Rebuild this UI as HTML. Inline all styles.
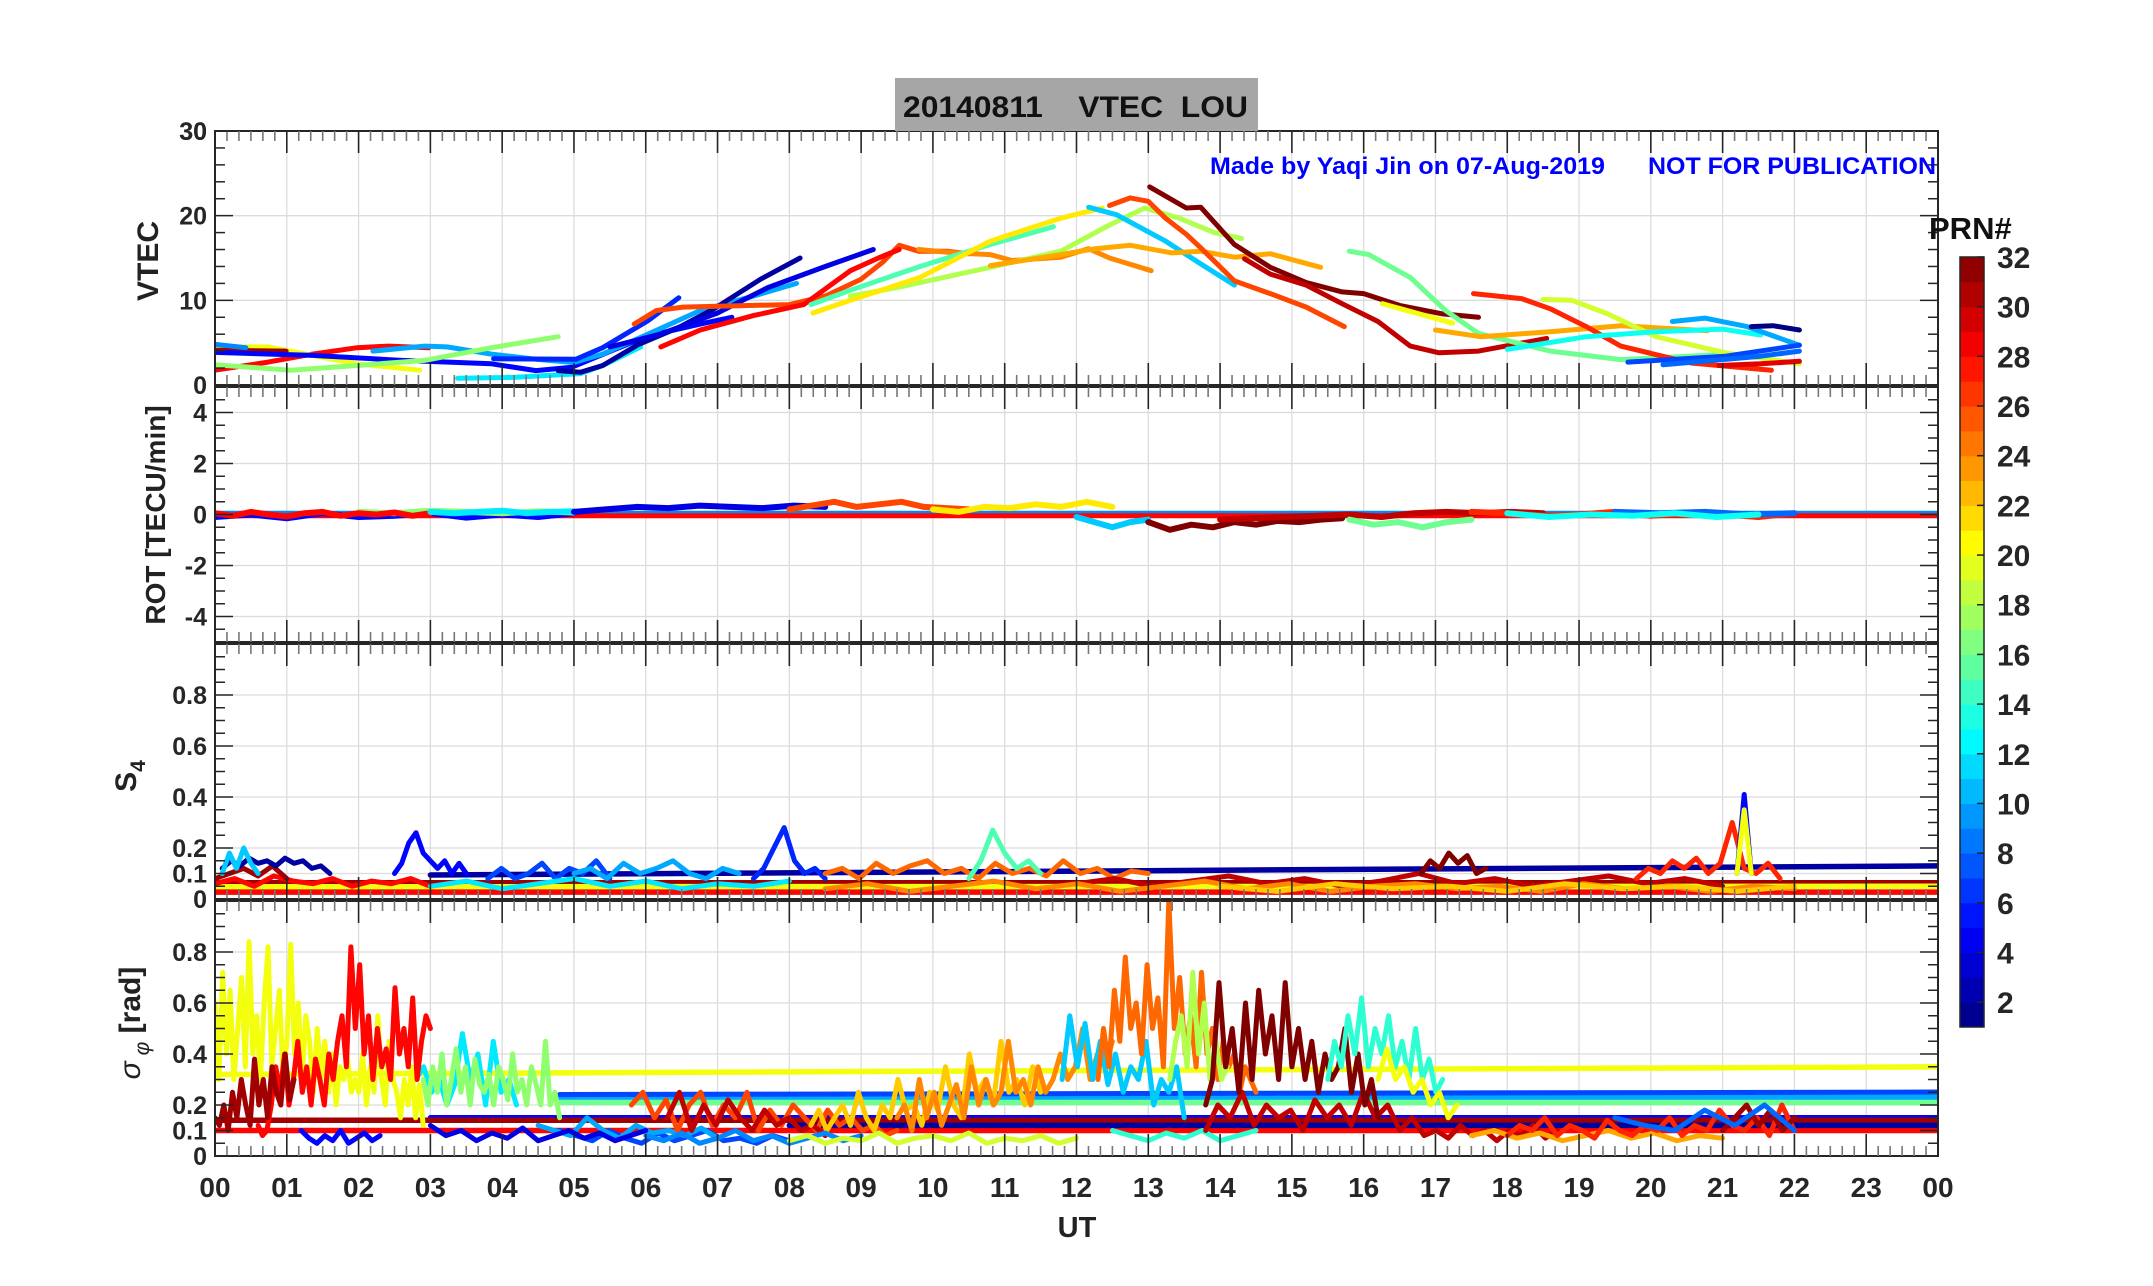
<!DOCTYPE html>
<html><head><meta charset="utf-8"><style>
html,body{margin:0;padding:0;background:#fff;}
svg{display:block;font-family:"Liberation Sans",Arial,sans-serif;}
</style></head><body>
<svg id="chart" width="2153" height="1286" viewBox="0 0 2153 1286" xmlns="http://www.w3.org/2000/svg">
<rect width="2153" height="1286" fill="#fff"/>
<g id="grid"></g><g id="marks"></g><g id="axes"></g>
<rect x="895" y="78" width="363" height="53" fill="#a6a6a6"/>
<text x="903" y="117" font-size="30" font-weight="bold" fill="#111" textLength="345" lengthAdjust="spacingAndGlyphs" xml:space="preserve">20140811    VTEC  LOU</text>
<text x="1210" y="174" font-size="24" font-weight="bold" fill="#0000ff" textLength="395" lengthAdjust="spacingAndGlyphs">Made by Yaqi Jin on 07-Aug-2019</text>
<text x="1648" y="174" font-size="24" font-weight="bold" fill="#0000ff" textLength="288" lengthAdjust="spacingAndGlyphs">NOT FOR PUBLICATION</text>
<text transform="translate(158,261) rotate(-90)" text-anchor="middle" font-size="30" font-weight="bold" fill="#222">VTEC</text>
<text transform="translate(165,515) rotate(-90)" text-anchor="middle" font-size="28" font-weight="bold" fill="#222">ROT [TECU/min]</text>
<text transform="translate(136,776) rotate(-90)" text-anchor="middle" font-size="30" font-weight="bold" fill="#222">S<tspan font-size="21" dy="9">4</tspan></text>
<text transform="translate(140,1023) rotate(-90)" text-anchor="middle" font-size="30" font-weight="bold" fill="#222"><tspan font-style="italic" font-weight="normal">σ</tspan><tspan font-size="21" dy="9" font-style="italic" font-weight="normal"> φ</tspan><tspan dy="-9"> [rad]</tspan></text>
<text x="1077" y="1237" text-anchor="middle" font-size="29" font-weight="bold" fill="#222">UT</text>
<text x="1929" y="239" font-size="31" font-weight="bold" fill="#111">PRN#</text>
<g id="cbar"></g>
</svg>
<script>
// ---------- data ----------
const hourLabels=["00","01","02","03","04","05","06","07","08","09","10","11","12","13","14","15","16","17","18","19","20","21","22","23","00"];
const vtecTicks=[0,10,20,30];
const rotTicks=[-4,-2,0,2,4];
const s4Ticks=[0,0.1,0.2,0.4,0.6,0.8];
const sigTicks=[0,0.1,0.2,0.4,0.6,0.8];
const cbarTicks=[2,4,6,8,10,12,14,16,18,20,22,24,26,28,30,32];

const vtecPrn=[28,20,31,5,9,10,17,12,6,2,4,26,28,24,15,18,21,11,23,26,32,30,16,20,23,27,19,13,10,1,7,8,29];
const vtecT=[
[0,0.74,1.36,1.98,2.42,2.98],
[0,0.74,1.36,1.98,2.85],
[0,0.99],
[0,1.36,2.6,3.85,4.47,4.97,5.4,6.03,6.76,7.2],
[0,0.43],
[2.2,2.92,3.23,3.85,4.47,5.0,5.4,6.03,6.76,7.5,8.1],
[0,1.05,1.98,2.92,3.85,4.78],
[3.38,4.16,5.09,5.4,5.93],
[3.88,5.03,5.4,6.03,6.46],
[4.78,5.09,5.4,5.9,6.46,6.95,7.6,8.15],
[5.5,6.2,7.0,7.7,8.5,9.17],
[5.84,6.15,6.52,7.0,7.5,8.0,8.5,9.0,9.3,9.53,9.8,10.2,10.5],
[6.21,6.76,7.5,8.2,8.85,9.24,9.53],
[9.8,10.3,10.8,11.1,11.78,12.17,12.46,13.04],
[8.3,8.85,9.82,10.8,11.68],
[8.85,9.5,10.8,11.78,12.46,12.95,13.43,13.92,14.3],
[8.33,8.85,9.82,10.8,11.78,12.36],
[12.17,12.56,13.24,13.73,14.2],
[10.8,11.78,12.26,12.75,13.33,13.73,14.2,14.7,15.4],
[12.46,12.75,13.0,13.24,13.53,13.73,14.2,14.7,15.2,15.73],
[13.02,13.53,13.73,14.2,14.7,15.2,15.7,16.0,16.5,17.1,17.6],
[14.34,14.7,15.2,15.7,16.2,16.65,17.05,17.6,18.55],
[15.8,16.07,16.65,17.14,17.6,18.6,19.58,20.99],
[16.26,17.24],
[17.0,17.63,18.6,19.58,20.79],
[17.53,18.2,18.6,19.1,19.58,20.56,21.68],
[18.5,18.9,19.4,20.07,21.04,22.07],
[18.0,19.1,20.07,21.0,21.53],
[20.3,20.75,21.34,22.07],
[21.4,21.7,22.07],
[19.68,21.04,22.07],
[20.17,21.53,22.07],
[20.95,21.53,22.07]];
const vtecV=[
[1.75,2.7,3.65,4.4,4.6,4.4],
[4.5,4.5,3.5,2.5,1.75],
[4.1,4.0],
[3.85,3.5,2.9,2.5,1.7,2.1,3.6,5.8,7.2,8.0],
[4.8,4.4],
[4.0,4.6,4.5,3.65,3.05,2.66,3.65,6.0,8.8,10.5,12.0],
[2.4,1.75,2.3,2.9,4.4,5.7],
[0.8,0.9,1.35,2.3,4.5],
[3.1,3.05,4.4,7.6,10.3],
[1.7,1.5,2.3,4.8,6.8,9.0,12.5,15.0],
[4.5,6.0,8.5,11.5,14.0,16.0],
[7.2,8.8,9.2,9.3,9.4,9.5,10.5,12.5,14.5,16.5,15.8,15.8,15.5],
[4.5,6.5,8.2,9.5,13.5,15.0,16.0],
[16.0,15.6,15.4,14.7,15.1,16.1,15.0,13.5],
[9.5,11.2,14.0,16.6,18.7],
[10.5,11.5,13.9,15.8,18.9,20.9,19.7,18.0,17.3],
[8.5,10.0,12.7,17.0,19.7,20.9],
[21.0,20.1,17.0,14.3,11.8],
[14.1,15.4,16.1,16.5,15.6,15.8,15.1,15.5,13.9],
[21.2,22.1,21.7,19.7,17.8,16.2,12.3,10.8,9.2,6.9],
[23.4,20.9,21.0,16.6,13.9,12.1,11.0,10.8,9.4,8.4,8.0],
[14.9,13.1,11.8,9.6,7.5,4.6,3.8,4.0,5.5],
[15.8,15.4,12.7,8.8,6.1,4.0,3.0,3.6],
[9.6,7.3],
[6.5,5.7,6.3,7.0,6.4],
[10.8,10.2,9.0,6.9,4.6,2.6,1.75],
[10.1,10.0,8.4,5.7,3.8,2.5],
[4.2,5.7,6.3,6.6,5.9],
[7.5,7.9,6.9,4.7],
[6.9,7.0,6.5],
[2.7,3.4,4.7],
[2.4,3.4,4.0],
[2.3,2.5,2.8]];

// ROT
const rotPrn=[5,17,28,12,4,26,21,11,32,30,16,27,8,13];
const rotStart=[0,2,0,3,5,8,10,12,13,14,15.8,17.5,19.5,18];
const rotEnd=[5,5,3,5,8.5,10.5,12.5,13,15.7,18.5,17.5,22,22,21.5];
const rotV=[
[-0.1,0,-0.15,0.05,-0.1,-0.05,0.05,-0.12,0,-0.1,0.05],
[0.1,0.05,0.15,0.1,0.05,0.12,0.08],
[0.05,-0.05,0.1,0,-0.08,0.05,0.1,-0.05,0.05,0,0.08,-0.05,0.05],
[0.1,0.05,0.1,0.15,0.05,0.1,0.12],
[0.1,0.2,0.3,0.25,0.35,0.3,0.25,0.35,0.3],
[0.2,0.35,0.5,0.3,0.4,0.5,0.3,0.25,0.2],
[0.2,0.1,0.3,0.25,0.4,0.3,0.5,0.3],
[-0.1,-0.3,-0.5,-0.3,-0.2],
[-0.3,-0.6,-0.4,-0.5,-0.3,-0.4,-0.25,-0.3,-0.2,-0.15],
[-0.2,-0.15,-0.1,-0.05,0,-0.1,0.05,0.1,0.05,0.1,0.05],
[-0.2,-0.4,-0.3,-0.5,-0.3,-0.2],
[0.1,0.05,-0.05,0,0.1,-0.05,0.05,0,-0.1,0.05],
[0.1,0.05,0.1,0,0.05],
[0.05,-0.1,0,-0.05,0.05,-0.1,0]];
const rotFlatPrn=[9,28];
const rotFlatV=[0.05,-0.05];

// S4
const s4FlatPrn=[2,31,20,28];
const s4FlatStart=[3,0,0,0];
const s4FlatV0=[0.094,0.064,0.048,0.027];
const s4FlatV1=[0.13,0.064,0.05,0.027];
const s4Prn=[28,31,2,11,5,7,10,6,25,15,30,32,27,5,20,24,12,22];
const s4Start=[0,0,0.1,0.1,2.5,3.8,5,7.5,8.5,10.5,12,16.8,19.8,21.2,21.2,8.5,3,14];
const s4End=[3,1,1.6,0.6,3.5,5.5,7.3,8.5,13,11.5,21,17.7,21.8,21.4,21.4,22,8,22];
const s4V=[
[0.06,0.08,0.05,0.09,0.07,0.06,0.08,0.05,0.07,0.06,0.08,0.05],
[0.08,0.1,0.12,0.09,0.13,0.08],
[0.12,0.15,0.13,0.16,0.14,0.15,0.13,0.16,0.14,0.15,0.12,0.13,0.1],
[0.1,0.18,0.12,0.2,0.14,0.1],
[0.1,0.14,0.22,0.26,0.18,0.15,0.12,0.15,0.1,0.14,0.1],
[0.08,0.12,0.08,0.1,0.14,0.08,0.12,0.1,0.15,0.08],
[0.1,0.12,0.08,0.14,0.1,0.12,0.15,0.1,0.08,0.12,0.1],
[0.08,0.12,0.2,0.28,0.15,0.1,0.12,0.08],
[0.1,0.12,0.08,0.14,0.1,0.13,0.15,0.1,0.12,0.08,0.14,0.1,0.12,0.09,0.15,0.1,0.12,0.08,0.11,0.1],
[0.08,0.15,0.27,0.18,0.12,0.15,0.1],
[0.06,0.08,0.05,0.07,0.09,0.06,0.08,0.05,0.07,0.1,0.06,0.08,0.05,0.07,0.09,0.06,0.08,0.05],
[0.1,0.15,0.12,0.18,0.14,0.17,0.1,0.12],
[0.08,0.12,0.1,0.15,0.12,0.16,0.1,0.14,0.3,0.12,0.1,0.14,0.08],
[0.1,0.41,0.1],
[0.1,0.35,0.1],
[0.04,0.06,0.03,0.05,0.07,0.04,0.06,0.03,0.05,0.07,0.04,0.06,0.03,0.05,0.06,0.04,0.05,0.03,0.06,0.04,0.05,0.03,0.05,0.04],
[0.05,0.07,0.04,0.06,0.08,0.05,0.07,0.04,0.06,0.05,0.07],
[0.05,0.03,0.06,0.04,0.05,0.03,0.06,0.04,0.05,0.03,0.05]];

// Sigma phi
const sigFlatPrn=[20,7,10,16,5,31,28,2];
const sigFlatStart=[0,4.8,4.8,4.8,3,0,0,8];
const sigFlatV0=[0.32,0.24,0.22,0.21,0.15,0.14,0.1,0.12];
const sigFlatV1=[0.35,0.25,0.23,0.21,0.15,0.14,0.1,0.12];
const sigPrn=[5,7,10,12,17,20,28,31,26,30,22,24,14,11,25,18,30,32,14,20,23,27,31,8,4,9,19];
const sigStart=[1.2,4.8,4.5,2.8,2.9,0,0.6,0,5.8,6.3,8.3,9.5,12.5,11.8,12.3,13.3,13.8,13.8,15.5,16.2,17.5,18,21,19.5,3,6,8];
const sigEnd=[2.3,8,7,4.2,4.8,2.9,3.0,1.1,9.5,8.5,11.5,12.5,14.5,13.5,14.5,14.1,18.7,16.2,17.1,17.3,21,22,22,22,6,9,12];
const sigV=[
[0.1,0.07,0.05,0.08,0.06,0.1,0.05,0.07,0.09,0.06,0.08],
[0.1,0.08,0.06,0.1,0.07,0.05,0.09,0.06,0.08,0.1,0.06,0.07,0.05,0.08,0.06],
[0.12,0.1,0.08,0.15,0.1,0.07,0.12,0.09,0.1,0.08,0.11,0.07],
[0.3,0.35,0.25,0.3,0.2,0.28,0.48,0.3,0.4,0.2,0.45,0.25,0.3,0.2],
[0.3,0.2,0.35,0.25,0.4,0.2,0.3,0.42,0.25,0.35,0.2,0.38,0.28,0.25,0.32,0.2,0.35,0.3,0.22,0.4,0.25,0.3,0.2,0.35,0.28,0.2,0.45,0.2,0.25,0.15],
[0.6,0.3,0.72,0.4,0.65,0.3,0.5,0.7,0.35,0.84,0.4,0.55,0.3,0.6,0.82,0.35,0.5,0.65,0.3,0.45,0.83,0.4,0.6,0.3,0.55,0.45,0.25,0.5,0.3,0.45,0.25,0.4,0.2,0.35,0.3,0.38,0.25,0.3,0.25,0.4,0.2,0.35,0.25,0.55,0.3,0.2,0.45,0.3,0.25,0.15,0.3,0.2,0.35,0.15,0.28,0.12],
[0.12,0.08,0.1,0.2,0.35,0.25,0.4,0.2,0.3,0.45,0.25,0.35,0.2,0.38,0.3,0.2,0.4,0.3,0.45,0.55,0.35,0.82,0.5,0.75,0.4,0.55,0.3,0.5,0.35,0.42,0.3,0.66,0.4,0.5,0.35,0.62,0.3,0.45,0.55,0.5],
[0.15,0.12,0.2,0.1,0.25,0.15,0.3,0.2,0.12,0.38,0.2,0.3,0.15,0.35,0.25,0.2,0.4,0.22,0.3],
[0.2,0.25,0.15,0.22,0.1,0.2,0.25,0.12,0.2,0.15,0.25,0.1,0.18,0.12,0.2,0.15,0.1,0.18,0.12,0.15,0.1,0.12,0.08,0.1],
[0.15,0.25,0.1,0.2,0.12,0.22,0.15,0.1,0.18,0.12,0.15,0.1,0.12,0.08],
[0.12,0.18,0.1,0.15,0.2,0.12,0.25,0.15,0.1,0.2,0.15,0.3,0.18,0.2,0.12,0.25,0.18,0.35,0.2,0.15,0.4,0.25,0.3,0.2,0.45,0.25,0.3,0.2,0.35,0.25],
[0.15,0.2,0.1,0.3,0.15,0.25,0.12,0.2,0.28,0.15,0.35,0.2,0.3,0.2,0.25,0.45,0.25,0.3,0.2,0.35,0.25,0.3,0.4,0.3,0.35,0.5,0.3,0.4,0.35,0.45],
[0.1,0.08,0.06,0.09,0.07,0.1,0.06,0.08,0.1],
[0.3,0.55,0.35,0.52,0.3,0.45,0.28,0.4,0.25,0.35,0.3,0.45,0.2,0.3,0.25,0.35,0.15],
[0.3,0.5,0.35,0.65,0.45,0.78,0.5,0.6,0.4,0.75,0.5,0.62,0.35,1.0,0.5,0.7,0.4,0.55,0.35,0.72,0.4,0.5,0.3,0.45,0.35,0.4,0.25,0.35,0.3,0.25],
[0.3,0.45,0.55,0.35,0.72,0.4,0.6,0.3,0.45,0.3,0.35],
[0.1,0.2,0.15,0.25,0.12,0.2,0.15,0.18,0.1,0.22,0.15,0.2,0.12,0.25,0.15,0.2,0.1,0.15,0.08,0.1,0.07,0.12,0.08,0.1,0.06,0.1,0.08,0.12,0.07,0.1],
[0.2,0.3,0.68,0.35,0.5,0.25,0.6,0.3,0.65,0.4,0.55,0.3,0.68,0.35,0.5,0.3,0.45,0.25,0.4,0.3,0.35,0.5,0.25,0.4,0.2,0.3,0.15],
[0.3,0.45,0.35,0.55,0.4,0.62,0.35,0.5,0.4,0.55,0.35,0.45,0.3,0.5,0.3,0.38,0.25,0.3],
[0.3,0.42,0.3,0.35,0.25,0.3,0.2,0.25,0.15,0.2],
[0.08,0.1,0.07,0.09,0.06,0.08,0.1,0.07,0.09,0.06,0.08,0.07],
[0.08,0.12,0.1,0.15,0.08,0.12,0.1,0.07,0.14,0.1,0.08,0.12,0.1,0.15,0.08,0.12,0.1,0.18,0.12,0.1,0.15,0.08,0.2,0.1],
[0.1,0.15,0.2,0.12,0.18,0.1,0.15],
[0.15,0.12,0.1,0.18,0.12,0.2,0.1],
[0.12,0.08,0.1,0.06,0.09,0.07,0.11,0.06,0.08,0.1,0.07,0.09,0.06,0.08,0.1],
[0.08,0.06,0.09,0.05,0.07,0.1,0.06,0.08,0.05,0.07,0.09,0.06,0.08],
[0.06,0.08,0.05,0.07,0.06,0.09,0.05,0.07,0.08,0.06,0.09,0.05,0.07,0.06,0.08,0.05,0.07]];

// ---------- rendering ----------
const NS="http://www.w3.org/2000/svg";
const L=215,R=1938;
const xs=h=>L+h*(R-L)/24;
const panels=[
 {name:"vtec",top:131,bot:385,min:0,max:30,ticks:vtecTicks,minor:2},
 {name:"rot",top:387,bot:642,min:-5,max:5,ticks:rotTicks,minor:0.5},
 {name:"s4",top:644,bot:899,min:0,max:1,ticks:s4Ticks,minor:0.05},
 {name:"sigma",top:901,bot:1156,min:0,max:1,ticks:sigTicks,minor:0.05}];
const ys=(p,v)=>p.bot-(v-p.min)/(p.max-p.min)*(p.bot-p.top);
function jet(prn){
 const x=(prn-1)/31;
 const c=t=>Math.round(255*Math.max(0,Math.min(1,1.5-Math.abs(4*x-t))));
 return `rgb(${c(3)},${c(2)},${c(1)})`;
}
function mk(tag,attrs,parent){
 const e=document.createElementNS(NS,tag);
 for(const k in attrs)e.setAttribute(k,attrs[k]);
 parent.appendChild(e);return e;
}
const grid=document.getElementById('grid'),marks=document.getElementById('marks'),axes=document.getElementById('axes');
const defs=mk('defs',{},document.getElementById('chart'));
panels.forEach((p,i)=>{
 const cp=mk('clipPath',{id:'clip'+i},defs);
 mk('rect',{x:L,y:p.top,width:R-L,height:p.bot-p.top},cp);
 for(let h=1;h<24;h++){
  const g=mk('line',{x1:xs(h),x2:xs(h),y1:p.top,y2:p.bot,stroke:'#dcdcdc','stroke-width':1.3},grid);
  
  
 }
 p.ticks.forEach(v=>{
  if(v===p.min||v===p.max)return;
  const g=mk('line',{x1:L,x2:R,y1:ys(p,v),y2:ys(p,v),stroke:'#dcdcdc','stroke-width':1.3},grid);
  
  
 });
 const fr=mk('rect',{x:L,y:p.top,width:R-L,height:p.bot-p.top,fill:'none',stroke:'#262626','stroke-width':2},axes);
 
 
 for(let k=0;k<=144;k++){
  const h=k/6,x=xs(h),major=k%6===0,len=major?22:10;
  mk('line',{x1:x,x2:x,y1:p.bot,y2:p.bot-len,stroke:major?'#262626':'#777','stroke-width':1.6},axes);
  mk('line',{x1:x,x2:x,y1:p.top,y2:p.top+len,stroke:major?'#262626':'#777','stroke-width':1.6},axes);
 }
 for(let v=p.min;v<=p.max+1e-9;v+=p.minor){
  const y=ys(p,v);
  const major=p.ticks.some(t=>Math.abs(t-v)<1e-6);
  const len=major?18:10;
  mk('line',{x1:L,x2:L+len,y1:y,y2:y,stroke:'#262626','stroke-width':1.5},axes);
  mk('line',{x1:R,x2:R-len,y1:y,y2:y,stroke:'#262626','stroke-width':1.5},axes);
 }
 p.ticks.concat(i===0?[p.max]:[]).forEach(v=>{
  if(i>0&&v===p.max)return;
  const t=mk('text',{x:L-8,y:ys(p,v)+9,'text-anchor':'end','font-size':25,'font-weight':'bold',fill:'#262626'},axes);
  t.textContent=String(v);
  
  
 });
});
hourLabels.forEach((s,h)=>{
 const t=mk('text',{x:xs(h),y:1197,'text-anchor':'middle','font-size':28,'font-weight':'bold',fill:'#262626'},axes);
 t.textContent=s;
 
 
});
function poly(pi,pts,prn,w,name){
 const d=pts.map((q,k)=>(k?'L':'M')+q[0].toFixed(1)+' '+q[1].toFixed(1)).join('');
 const e=mk('path',{d:d,fill:'none',stroke:jet(prn),'stroke-width':w,'stroke-linejoin':'round','stroke-linecap':'round','clip-path':`url(#clip${pi})`},marks);
 
 
}
function even(pi,t0,t1,vals){
 const p=panels[pi],n=vals.length;
 return vals.map((v,k)=>[xs(t0+(t1-t0)*(n>1?k/(n-1):0)),ys(p,v)]);
}
vtecPrn.forEach((prn,i)=>poly(0,vtecT[i].map((h,k)=>[xs(h),ys(panels[0],vtecV[i][k])]),prn,5,'vtec-line-prn'+prn));
rotFlatPrn.forEach((prn,i)=>poly(1,even(1,0,24,[rotFlatV[i],rotFlatV[i]]),prn,5,'rot-flat-prn'+prn));
rotPrn.forEach((prn,i)=>poly(1,even(1,rotStart[i],rotEnd[i],rotV[i]),prn,6,'rot-line-prn'+prn));
s4FlatPrn.forEach((prn,i)=>poly(2,even(2,s4FlatStart[i],24,[s4FlatV0[i],s4FlatV1[i]]),prn,5.5,'s4-flat-prn'+prn));
s4Prn.forEach((prn,i)=>poly(2,even(2,s4Start[i],s4End[i],s4V[i]),prn,5,'s4-line-prn'+prn));
sigFlatPrn.forEach((prn,i)=>poly(3,even(3,sigFlatStart[i],24,[sigFlatV0[i],sigFlatV1[i]]),prn,5.5,'sigma-flat-prn'+prn));
sigPrn.forEach((prn,i)=>poly(3,even(3,sigStart[i],sigEnd[i],sigV[i]),prn,5,'sigma-line-prn'+prn));
const cb=document.getElementById('cbar');
const cbTop=257,cbBot=1027,cbX=1960,cbW=24;
const cy=v=>cbBot-(v-1)/31*(cbBot-cbTop);
for(let b=1;b<=31;b++){
 const r=mk('rect',{x:cbX,y:cy(b+1),width:cbW,height:cy(b)-cy(b+1)+0.5,fill:jet(b+0.5)},cb);
 
 
}
mk('rect',{x:cbX,y:cbTop,width:cbW,height:cbBot-cbTop,fill:'none',stroke:'#262626','stroke-width':1.5},cb);
cbarTicks.forEach(v=>{
 const y=cy(v);
 mk('line',{x1:cbX+cbW,x2:cbX+cbW-7,y1:y,y2:y,stroke:'#262626','stroke-width':1.5},cb);
 const t=mk('text',{x:1997,y:y+11,'font-size':30,'font-weight':'bold',fill:'#262626'},cb);
 t.textContent=String(v);
 
 
});
</script>
</body></html>
